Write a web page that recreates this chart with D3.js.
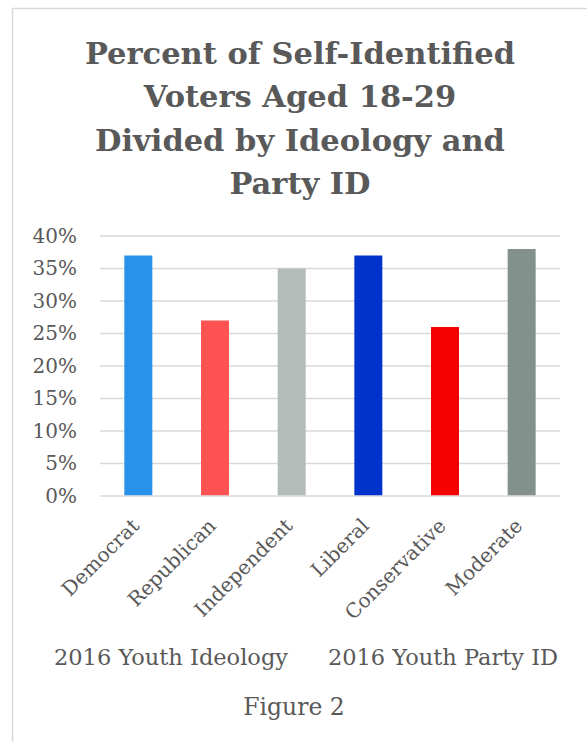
<!DOCTYPE html>
<html lang="en">
<head>
  <meta charset="UTF-8">
  <title>Percent of Self-Identified Voters Aged 18-29</title>
  <style>
    body {
      margin: 0;
      padding: 0;
      background-color: #fff;
    }
    svg text {
      font-family: "DejaVu Serif", "Liberation Serif", serif;
      fill: #595959;
    }
  </style>
  <script src="https://d3js.org/d3.v7.min.js"></script>
</head>
<body>
  <div id="chart"></div>
  <script>
    const categories = ["Democrat", "Republican", "Independent", "Liberal", "Conservative", "Moderate"];
    const values = [0.37, 0.27, 0.35, 0.37, 0.26, 0.38];
    const colors = ["#2891EA", "#FF5252", "#B4BCBA", "#0033CC", "#F50000", "#82918B"];
    const yTicks = [0, 0.05, 0.10, 0.15, 0.20, 0.25, 0.30, 0.35, 0.40];
    const titleLines = ["Percent of Self-Identified", "Voters Aged 18-29", "Divided by Ideology and", "Party ID"];
    const groupLabels = ["2016 Youth Ideology", "2016 Youth Party ID"];
    const caption = "Figure 2";

    const width = 587;
    const height = 742;
    const plot = { left: 100, right: 560, top: 236, bottom: 496 };

    const svg = d3.select("#chart")
      .append("svg")
      .attr("width", width)
      .attr("height", height);

    // outer frame of the chart object
    svg.append("rect")
      .attr("x", 12.5)
      .attr("y", 8.5)
      .attr("width", 700)
      .attr("height", 900)
      .attr("fill", "none")
      .attr("stroke", "#d9d9d9")
      .attr("stroke-width", 1.5);

    svg.append("g")
      .selectAll("text")
      .data(titleLines)
      .join("text")
      .attr("x", 300)
      .attr("y", (d, i) => 64 + i * 43.4)
      .attr("text-anchor", "middle")
      .attr("font-size", 30.5)
      .attr("font-weight", "bold")
      .text(d => d);

    const x = d3.scaleBand()
      .domain(categories)
      .range([plot.left, plot.right])
      .paddingInner(0.635)
      .paddingOuter(0.3175);

    const y = d3.scaleLinear()
      .domain([0, 0.40])
      .range([plot.bottom, plot.top]);

    // gridlines
    svg.append("g")
      .selectAll("line")
      .data(yTicks)
      .join("line")
      .attr("x1", plot.left)
      .attr("x2", plot.right)
      .attr("y1", d => y(d))
      .attr("y2", d => y(d))
      .attr("stroke", "#d9d9d9")
      .attr("stroke-width", 1.5);

    // y axis labels
    const yAxis = d3.axisLeft(y)
      .tickValues(yTicks)
      .tickFormat(d3.format(".0%"))
      .tickSize(0)
      .tickPadding(23);

    svg.append("g")
      .attr("transform", `translate(${plot.left},0)`)
      .call(yAxis)
      .call(g => g.select(".domain").remove())
      .call(g => g.selectAll("text")
        .attr("font-size", 20)
        .attr("font-family", null)
        .attr("fill", "#595959"));

    svg.append("g")
      .selectAll("rect")
      .data(categories)
      .join("rect")
      .attr("x", d => x(d))
      .attr("y", (d, i) => y(values[i]))
      .attr("width", x.bandwidth())
      .attr("height", (d, i) => y(0) - y(values[i]) - 0.75)
      .attr("fill", (d, i) => colors[i]);

    // rotated category labels
    svg.append("g")
      .selectAll("text")
      .data(categories)
      .join("text")
      .attr("transform", d => `translate(${x(d) + x.bandwidth() / 2 - 8},${plot.bottom + 21}) rotate(-45)`)
      .attr("text-anchor", "end")
      .attr("dy", "0.71em")
      .attr("font-size", 20)
      .text(d => d);

    svg.append("g")
      .selectAll("text")
      .data(groupLabels)
      .join("text")
      .attr("x", (d, i) => [171, 443][i])
      .attr("y", 665)
      .attr("text-anchor", "middle")
      .attr("font-size", 22.5)
      .text(d => d);

    svg.append("text")
      .attr("x", 294)
      .attr("y", 715)
      .attr("text-anchor", "middle")
      .attr("font-size", 23.5)
      .text(caption);
  </script>
</body>
</html>
